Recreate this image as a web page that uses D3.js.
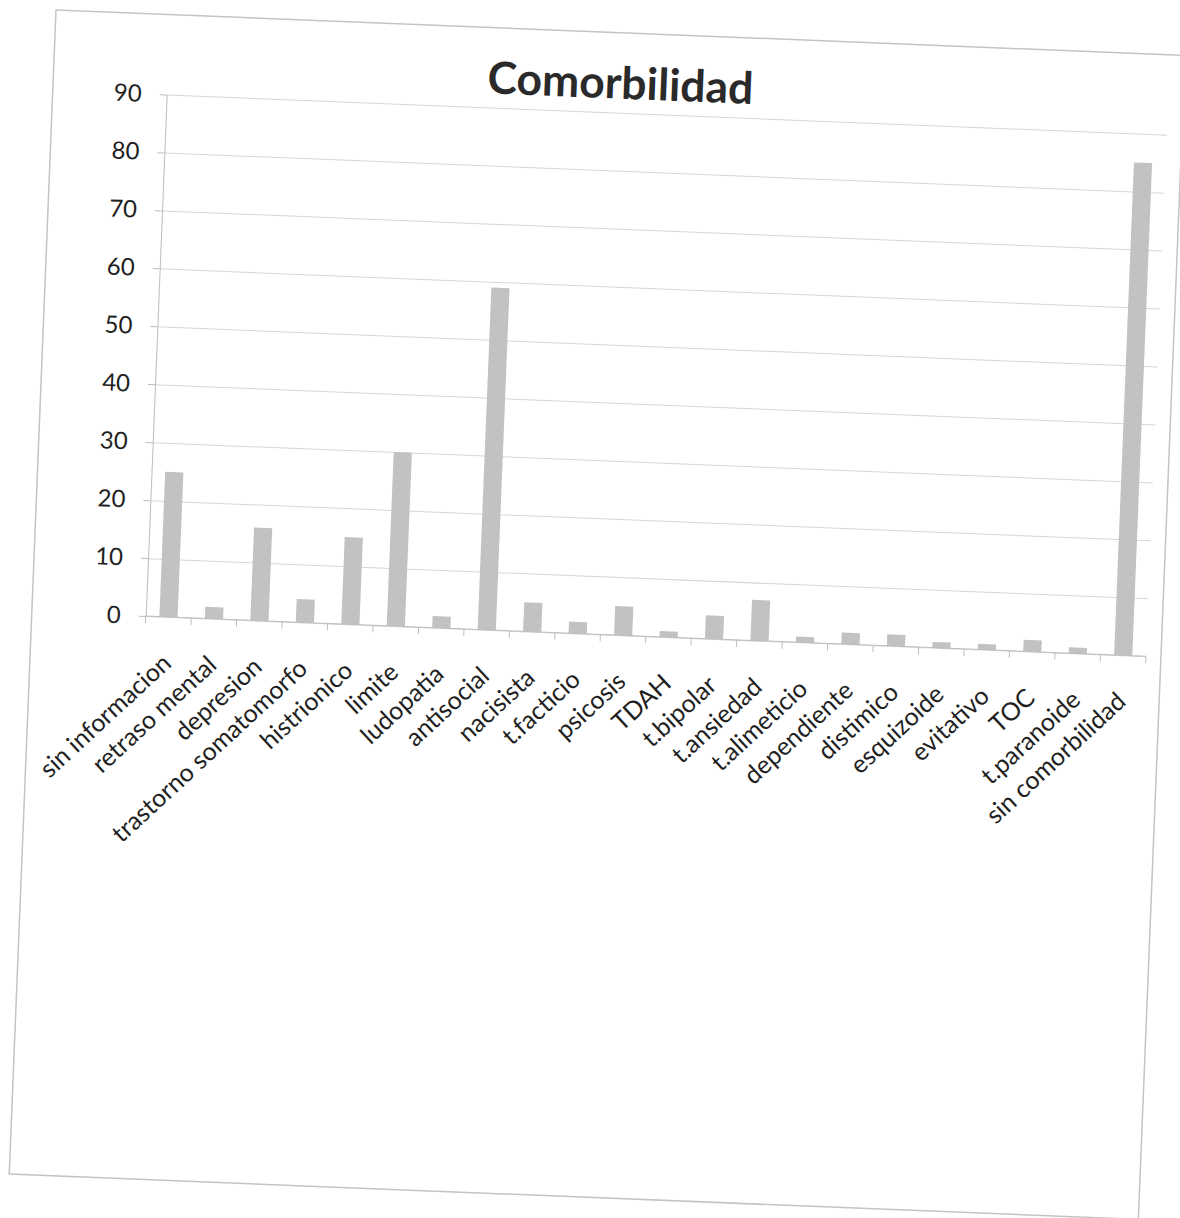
<!DOCTYPE html>
<html>
<head>
<meta charset="utf-8">
<script src="https://cdn.jsdelivr.net/npm/d3@7"></script>
<style>
  body { margin: 0; background: #fff; }
  svg { display: block; }
</style>
</head>
<body>
<svg id="chart" width="1180" height="1218"></svg>
<script>
// Chart data
const title = "Comorbilidad";
const categories = [
  "sin informacion", "retraso mental", "depresion", "trastorno somatomorfo",
  "histrionico", "limite", "ludopatia", "antisocial", "nacisista", "t.facticio",
  "psicosis", "TDAH", "t.bipolar", "t.ansiedad", "t.alimeticio", "dependiente",
  "distimico", "esquizoide", "evitativo", "TOC", "t.paranoide", "sin comorbilidad"
];
const values = [25, 2, 16, 4, 15, 30, 2, 59, 5, 2, 5, 1, 4, 7, 1, 2, 2, 1, 1, 2, 1, 85];
const yTicks = [0, 10, 20, 30, 40, 50, 60, 70, 80, 90];

// Layout (chart-local coordinates; the whole sheet is tilted slightly)
const frame = { w: 1130, h: 1165 };
const plot = { left: 114, right: 1115, top: 80, bottom: 602 };
const FONT = "Lato, 'Open Sans', sans-serif";
const TEXT = "#1f1f1f";
const AXIS = "#bdbdbd";
const GRID = "#d6d6d6";
const BAR = "#c2c2c2";

const svg = d3.select("#chart");
const sheet = svg.append("g").attr("transform", "translate(56,10) rotate(2.3)");

// Outer chart border
sheet.append("rect")
  .attr("x", 0).attr("y", 0)
  .attr("width", frame.w).attr("height", frame.h)
  .attr("fill", "#fff")
  .attr("stroke", "#c4c4c4")
  .attr("stroke-width", 1.5);

// Scales
const x = d3.scaleBand()
  .domain(categories)
  .range([plot.left, plot.right])
  .paddingInner(0.6)
  .paddingOuter(0.3);

const y = d3.scaleLinear()
  .domain([0, 90])
  .range([plot.bottom, plot.top]);

// Horizontal gridlines
sheet.append("g")
  .attr("transform", `translate(${plot.left},0)`)
  .call(d3.axisLeft(y).tickValues(yTicks).tickSize(-(plot.right - plot.left)).tickFormat(""))
  .call(g => g.select(".domain").remove())
  .call(g => g.selectAll(".tick line").attr("stroke", GRID).attr("stroke-width", 1));

// Value axis with tick labels
sheet.append("g")
  .attr("transform", `translate(${plot.left},0)`)
  .call(d3.axisLeft(y).tickValues(yTicks).tickSizeInner(7).tickSizeOuter(0).tickPadding(18))
  .call(g => g.select(".domain").attr("stroke", AXIS))
  .call(g => g.selectAll(".tick line").attr("stroke", AXIS))
  .call(g => g.selectAll(".tick text")
    .attr("fill", TEXT)
    .style("font-family", FONT)
    .style("font-size", "24px"));

// Bars
sheet.append("g")
  .selectAll("rect")
  .data(categories.map((c, i) => ({ c, v: values[i] })))
  .join("rect")
  .attr("x", d => x(d.c))
  .attr("y", d => y(d.v))
  .attr("width", x.bandwidth())
  .attr("height", d => y(0) - y(d.v))
  .attr("fill", BAR);

// Category axis: baseline, tick marks between categories, rotated labels
const step = x.step();
const axisX = sheet.append("g").attr("transform", `translate(0,${plot.bottom})`);
axisX.append("line")
  .attr("x1", plot.left).attr("x2", plot.right)
  .attr("y1", 0).attr("y2", 0)
  .attr("stroke", AXIS);
axisX.selectAll("line.tick")
  .data(d3.range(categories.length + 1))
  .join("line")
  .attr("class", "tick")
  .attr("x1", i => plot.left + i * step)
  .attr("x2", i => plot.left + i * step)
  .attr("y1", 0).attr("y2", 7)
  .attr("stroke", AXIS);

axisX.append("g")
  .call(d3.axisBottom(x).tickSize(0).tickPadding(0))
  .call(g => g.select(".domain").remove())
  .call(g => g.selectAll(".tick text")
    .attr("fill", TEXT)
    .style("font-family", FONT)
    .style("font-size", "25px")
    .attr("text-anchor", "end")
    .attr("y", 0).attr("dy", 0)
    .attr("transform", `translate(${x.bandwidth() / 2 - 3},48) rotate(-45)`));

// Title
sheet.append("text")
  .attr("x", 567)
  .attr("y", 66)
  .attr("text-anchor", "middle")
  .attr("fill", "#2a2a2a")
  .style("font-family", FONT)
  .style("font-weight", "700")
  .style("font-size", "44.5px")
  .text(title);
</script>
</body>
</html>
